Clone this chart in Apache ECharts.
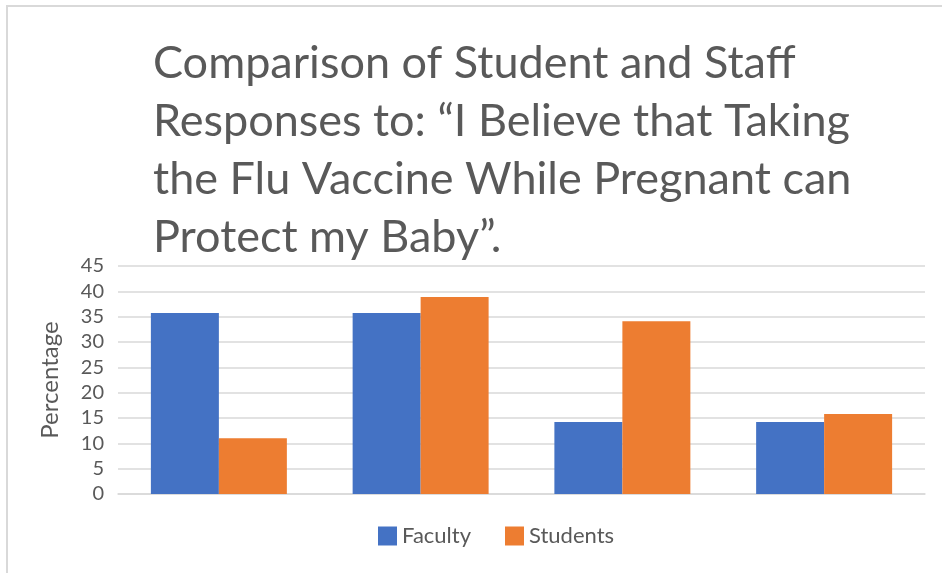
<!DOCTYPE html>
<html>
<head>
<meta charset="utf-8">
<script src="https://cdn.jsdelivr.net/npm/echarts@6/dist/echarts.min.js"></script>
<style>
html,body{margin:0;padding:0;background:#fff;}
#wrap{position:relative;width:942px;height:573px;overflow:hidden;}
#chart{position:absolute;left:0;top:0;width:942px;height:573px;}
#bt{position:absolute;left:7px;top:5px;width:935px;height:2px;background:#d9d9d9;}
#bl{position:absolute;left:6px;top:5px;width:2px;height:568px;background:#d9d9d9;}
</style>
</head>
<body>
<div id="wrap"><div id="chart"></div><div id="bt"></div><div id="bl"></div></div>
<script>
const titleLines = ["Comparison of Student and Staff", "Responses to: \u201cI Believe that Taking", "the Flu Vaccine While Pregnant can", "Protect my Baby\u201d."];
const categories = ["1", "2", "3", "4"];
const faculty = [35.7, 35.7, 14.2, 14.2];
const students = [11.0, 38.9, 34.1, 15.8];
const yTicks = {min: 0, max: 45, interval: 5};

const font = 'Lato, "Open Sans", sans-serif';
const chart = echarts.init(document.getElementById('chart'));
chart.setOption({
  animation: false,
  textStyle: {fontFamily: font},
  title: {
    text: titleLines.join('\n'),
    left: 148, top: 29,
    textStyle: {fontFamily: font, fontSize: 45, fontWeight: 'normal', color: '#595959', lineHeight: 58}
  },
  legend: {
    bottom: 21, left: 373,
    icon: 'rect', itemWidth: 19, itemHeight: 19, itemGap: 34,
    textStyle: {fontFamily: font, fontSize: 22, color: '#595959'},
    data: ['Faculty', 'Students']
  },
  grid: {left: 118, right: 17, top: 266, bottom: 79},
  xAxis: {
    type: 'category', data: categories,
    axisLine: {lineStyle: {color: '#d9d9d9', width: 1.5}},
    axisTick: {show: false}, axisLabel: {show: false}
  },
  yAxis: {
    type: 'value', min: yTicks.min, max: yTicks.max, interval: yTicks.interval,
    name: 'Percentage', nameLocation: 'middle', nameGap: 56,
    nameTextStyle: {fontFamily: font, fontSize: 24, color: '#595959'},
    axisLabel: {fontFamily: font, fontSize: 20, color: '#595959', margin: 14},
    axisLine: {show: false}, axisTick: {show: false},
    splitLine: {lineStyle: {color: '#d9d9d9', width: 1.5}}
  },
  series: [
    {name: 'Faculty', type: 'bar', data: faculty, itemStyle: {color: '#4472C4'}, barGap: '0%', barCategoryGap: '32.6%'},
    {name: 'Students', type: 'bar', data: students, itemStyle: {color: '#ED7D31'}, barGap: '0%', barCategoryGap: '32.6%'}
  ]
});
</script>
</body>
</html>
